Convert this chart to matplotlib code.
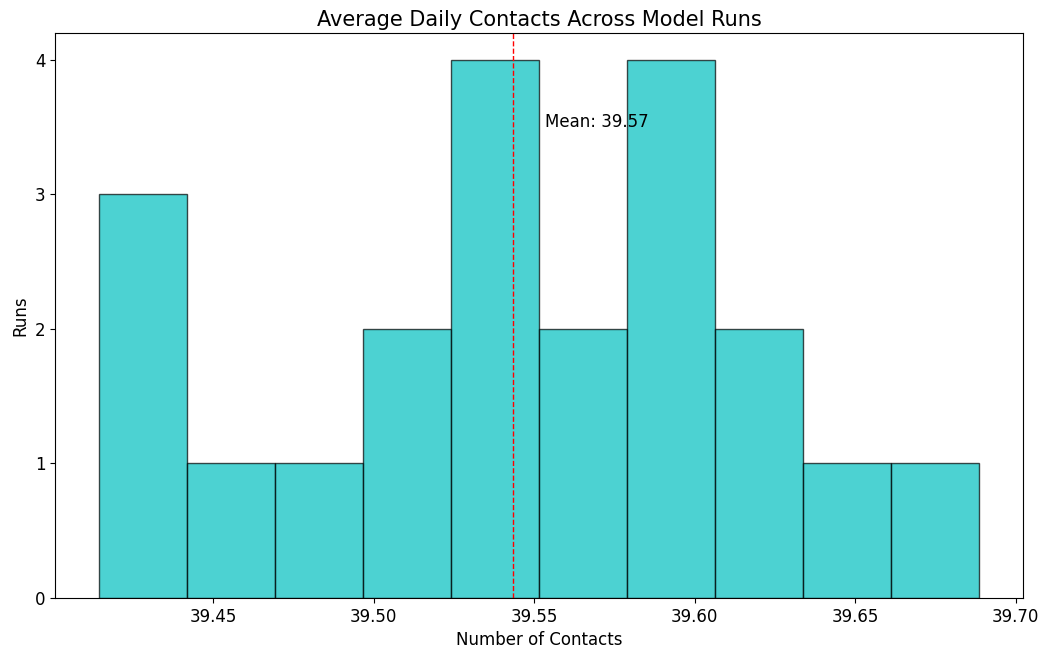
import numpy as np
import matplotlib
matplotlib.use("Agg")
import matplotlib.pyplot as plt

# average daily contacts per model run (21 runs)
contacts = [39.4144, 39.425, 39.436,
            39.455,
            39.481,
            39.503, 39.515,
            39.528, 39.535, 39.541, 39.5475,
            39.554, 39.565,
            39.581, 39.586, 39.591, 39.598,
            39.609, 39.620,
            39.640,
            39.6886]
mean_label = "Mean: 39.57"

fig = plt.figure(figsize=(10.44, 6.57), dpi=100)
ax = fig.add_axes([0.0527, 0.0898, 0.9273, 0.86])

ax.hist(contacts, bins=10, color='c', edgecolor='k', alpha=0.7)
m = np.mean(contacts)
ax.axvline(m, color='r', linestyle='dashed', linewidth=1)
ax.text(m + 0.01, 3.5, mean_label, fontsize=12)

ax.set_title("Average Daily Contacts Across Model Runs", fontsize=15, pad=5)
ax.set_xlabel("Number of Contacts", fontsize=12)
ax.set_ylabel("Runs", fontsize=12)
ax.tick_params(labelsize=12)
ax.set_yticks([0, 1, 2, 3, 4])

fig.savefig("out.png")
